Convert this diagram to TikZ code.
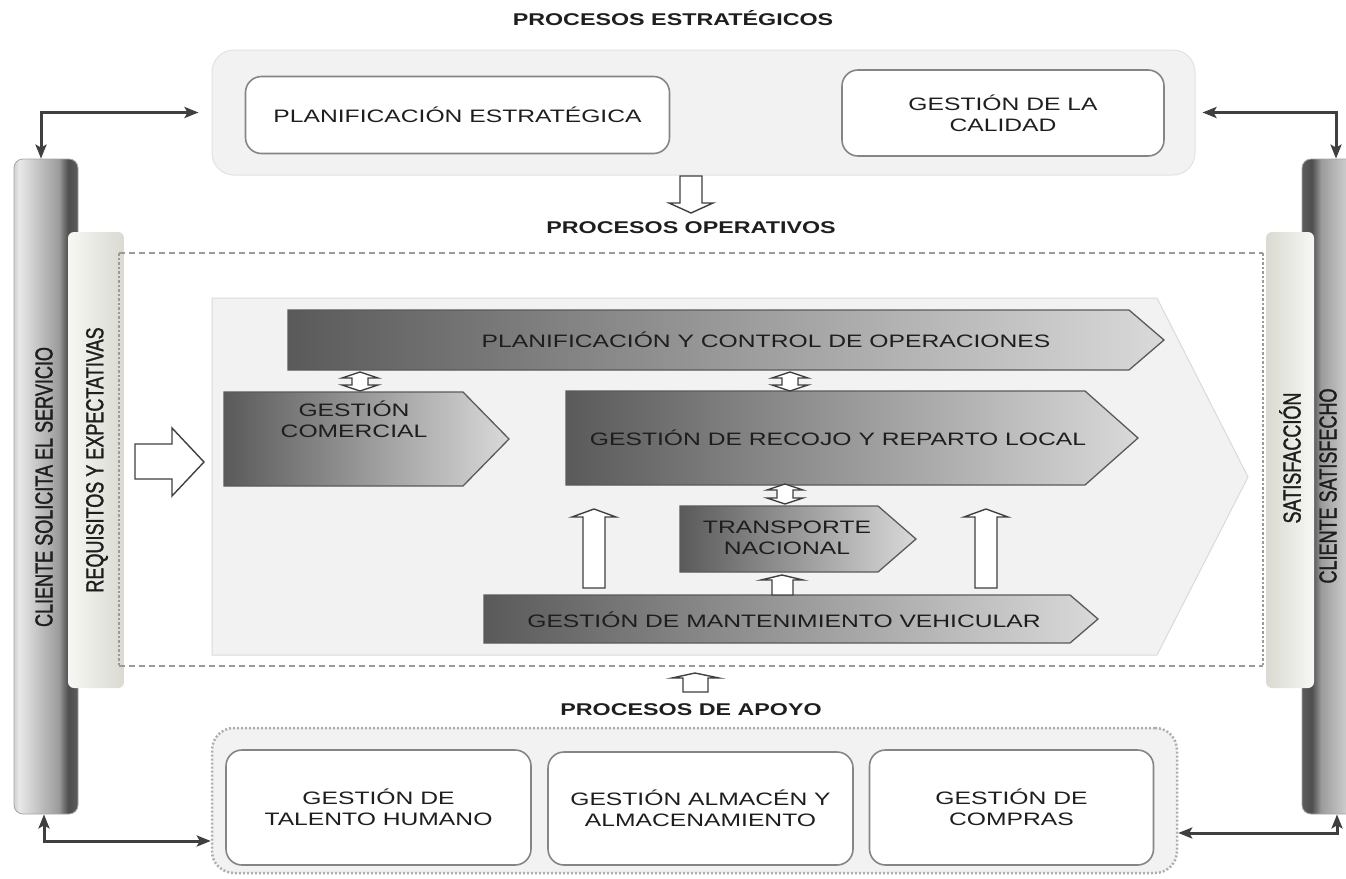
\documentclass[tikz,border=0pt]{standalone}
\usepackage{fontspec}
\setmainfont{Liberation Sans}
\newfontfamily\bodyfont[FakeStretch=1.37]{Liberation Sans}
\newfontfamily\vertfont[FakeStretch=0.73,FakeBold=1.2]{Liberation Sans}
\usetikzlibrary{arrows.meta}

\definecolor{txt}{HTML}{1E1E1E}
\definecolor{panel}{HTML}{F2F2F2}
\definecolor{panelline}{HTML}{E2E2E2}
\definecolor{boxline}{HTML}{858585}
\definecolor{arrowc}{HTML}{3F3F3F}
\definecolor{procdark}{HTML}{5A5A5A}
\definecolor{proclight}{HTML}{D9D9D9}
\definecolor{procline}{HTML}{5A5A5A}
\definecolor{dashc}{HTML}{9A9A9A}
\definecolor{chevline}{HTML}{DADADA}
\definecolor{barlight}{HTML}{F7F7F4}
\definecolor{bardark}{HTML}{DADAD2}
% cylinder colours
\definecolor{cyA}{HTML}{D0D0D0}
\definecolor{cyB}{HTML}{E8E8E8}
\definecolor{cyC}{HTML}{9C9C9C}
\definecolor{cyD}{HTML}{707070}
\definecolor{cyE}{HTML}{4E4E4E}
\definecolor{cyF}{HTML}{5C5C5C}

\pgfdeclarehorizontalshading{cylleft}{100bp}{color(0bp)=(cyA); color(25bp)=(cyA); color(29bp)=(cyB); color(60bp)=(cyC); color(64bp)=(cyD); color(67.5bp)=(cyE); color(75bp)=(cyF); color(100bp)=(cyF)}
\pgfdeclarehorizontalshading{cylright}{100bp}{color(0bp)=(cyF); color(25bp)=(cyF); color(32.5bp)=(cyE); color(36bp)=(cyD); color(40bp)=(cyC); color(71bp)=(cyB); color(75bp)=(cyA); color(100bp)=(cyA)}

% small hollow double-headed arrow: centre x, top y, bottom y
\newcommand{\twinarrow}[3]{%
  \path[hollow] (#1,#2) -- ({#1+18},{#2+6}) -- ({#1+8},{#2+6}) -- ({#1+8},{#3-6})
    -- ({#1+18},{#3-6}) -- (#1,#3) -- ({#1-18},{#3-6}) -- ({#1-8},{#3-6})
    -- ({#1-8},{#2+6}) -- ({#1-18},{#2+6}) -- cycle;}
% tall hollow up arrow: centre x
\newcommand{\uparrowblock}[1]{%
  \path[hollow] ({#1-11},588) -- ({#1+11},588) -- ({#1+11},517) -- ({#1+22},517)
    -- (#1,509) -- ({#1-22},517) -- ({#1-11},517) -- cycle;}

\begin{document}
\begin{tikzpicture}[x=1pt,y=-1pt,
  title/.style={font=\bodyfont\bfseries\fontsize{17}{20}\selectfont, text=txt, inner sep=0pt},
  lbl/.style={font=\bodyfont\fontsize{18}{21}\selectfont, text=txt, align=center, inner sep=0pt},
  vlbl/.style={font=\vertfont\fontsize{24.7}{26}\selectfont, text=txt, rotate=90, inner sep=0pt},
  panelbox/.style={draw=panelline, fill=panel, rounded corners=22pt, line width=1pt, inner sep=0pt},
  supbox/.style={draw=dashc!80, fill=panel, rounded corners=22pt, line width=2.5pt,
    dash pattern=on 2pt off 2pt, inner sep=0pt},
  whitebox/.style={lbl, draw=boxline, fill=white, rounded corners=16pt, line width=1.6pt},
  proc/.style={draw=procline, line width=1.3pt, left color=procdark, right color=proclight},
  bigchev/.style={draw=chevline, fill=panel, line width=1pt},
  hollow/.style={draw=arrowc, fill=white, line width=1.4pt, line join=miter},
  cylbase/.style={draw=gray!70, line width=0.8pt, rounded corners=9pt, minimum width=64pt,
    minimum height=655pt, inner sep=0pt},
  barbase/.style={rounded corners=6pt, inner sep=0pt, minimum height=456pt},
  link/.style={draw=arrowc, line width=3pt,
    {Stealth[length=14pt,width=11pt,inset=3pt]}-{Stealth[length=14pt,width=11pt,inset=3pt]}},
  dashedge/.style={draw=dashc, line width=2.5pt, dash pattern=on 6pt off 4pt},
  dotedge/.style={draw=dashc, line width=2.5pt, dash pattern=on 2.5pt off 2pt}]
\useasboundingbox (0,0) rectangle (1346,878);
\clip (0,0) rectangle (1346,878);

% ---- side columns
\node[cylbase, shading=cylleft] (lcyl) at (46,486.5) {};
\node[cylbase, shading=cylright] (rcyl) at (1334,486.5) {};
\node[barbase, minimum width=56pt, left color=barlight, right color=bardark] (req) at (96,460) {};
\node[barbase, minimum width=48pt, left color=bardark, right color=barlight] (sat) at (1290,460) {};
\node[vlbl] (lcyltxt) at (44,487) {CLIENTE SOLICITA EL SERVICIO};
\node[vlbl] (reqtxt) at (97,460) {REQUISITOS Y EXPECTATIVAS};
\node[vlbl] (sattxt) at (1290,458) {SATISFACCIÓN};
\node[vlbl] (rcyltxt) at (1328,486) {CLIENTE SATISFECHO};

% ---- strategic processes
\node[title] (tstrat) at (673,18) {PROCESOS ESTRATÉGICOS};
\node[panelbox, minimum width=983pt, minimum height=125pt] (strat) at (703.5,112.5) {};
\node[whitebox, minimum width=424pt, minimum height=77pt] (plan) at (457.5,115) {PLANIFICACIÓN ESTRATÉGICA};
\node[whitebox, minimum width=322pt, minimum height=86pt] (cal) at (1003,113) {GESTIÓN DE LA\\CALIDAD};

% strategic -> operative
\path[hollow] (680,176) -- (702,176) -- (702,203) -- (713,203) -- (691,213) -- (669,203) -- (680,203) -- cycle;
\node[title] (tops) at (691,228) {PROCESOS OPERATIVOS};

% ---- operative processes frame
\path[dashedge] (119,253) -- (1263,253) (119,666) -- (1263,666);
\path[dotedge] (119,253) -- (119,666) (1263,253) -- (1263,666);

% input arrow
\path[hollow] (135,444) -- (172,444) -- (172,428) -- (204,462) -- (172,496) -- (172,479) -- (135,479) -- cycle;

% value chain background
\path[bigchev] (212,298) -- (1157,298) -- (1248,477) -- (1157,655) -- (212,655) -- cycle;

% process chevrons
\path[proc] (288,310) -- (1129,310) -- (1164,340) -- (1129,370) -- (288,370) -- cycle;
\node[lbl] (pco) at (766,340) {PLANIFICACIÓN Y CONTROL DE OPERACIONES};
\path[proc] (224,392) -- (463,392) -- (509,439) -- (463,486) -- (224,486) -- cycle;
\node[lbl] (gcom) at (354,419) {GESTIÓN\\COMERCIAL};
\path[proc] (566,391) -- (1085,391) -- (1138,438) -- (1085,485) -- (566,485) -- cycle;
\node[lbl] (grr) at (838,438) {GESTIÓN DE RECOJO Y REPARTO LOCAL};
\path[proc] (680,506) -- (878,506) -- (916,539) -- (878,572) -- (680,572) -- cycle;
\node[lbl] (tnac) at (787,538) {TRANSPORTE\\NACIONAL};
\path[proc] (484,595) -- (1070,595) -- (1098,619) -- (1070,643) -- (484,643) -- cycle;
\node[lbl] (gmv) at (784,620) {GESTIÓN DE MANTENIMIENTO VEHICULAR};

% links between processes
\twinarrow{360}{372}{391}
\twinarrow{790}{372}{391}
\twinarrow{785}{484}{504}
\uparrowblock{594}
\uparrowblock{986}
\path[hollow] (772,595) -- (793,595) -- (793,580) -- (803,580) -- (782,575) -- (761,580) -- (772,580) -- cycle;

% ---- support processes
\path[hollow] (683,692) -- (708,692) -- (708,678) -- (719,678) -- (695,673) -- (672,678) -- (683,678) -- cycle;
\node[title] (tsup) at (691,710) {PROCESOS DE APOYO};
\node[supbox, minimum width=965pt, minimum height=145pt] (sup) at (694.5,800.5) {};
\node[whitebox, minimum width=305pt, minimum height=115pt] (tal) at (378.5,807.5) {GESTIÓN DE\\TALENTO HUMANO};
\node[whitebox, minimum width=305pt, minimum height=113pt] (alm) at (700.5,808.5) {GESTIÓN ALMACÉN Y\\ALMACENAMIENTO};
\node[whitebox, minimum width=284pt, minimum height=115pt] (com) at (1011.5,807.5) {GESTIÓN DE\\COMPRAS};

% ---- customer links
\coordinate (ybl) at (0,841);
\coordinate (ybr) at (0,833);
\draw[link, shorten >=13pt] ([xshift=-5pt]lcyl.north) |- (strat.west);
\draw[link, shorten >=7pt] ([xshift=2pt]rcyl.north) |- (strat.east);
\draw[link] ([xshift=-2pt]lcyl.south) |- (sup.west |- ybl);
\draw[link] ([xshift=3pt]rcyl.south) |- (sup.east |- ybr);
\end{tikzpicture}
\end{document}
